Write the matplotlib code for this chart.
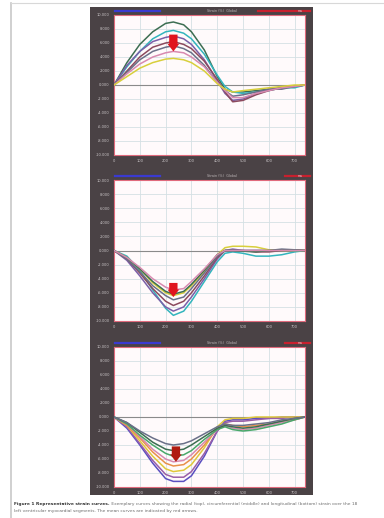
import matplotlib
matplotlib.use("Agg")
import matplotlib.pyplot as plt
from matplotlib.patches import Rectangle
from matplotlib.lines import Line2D

# sample times (x axis units, 100 ms each)
t = [0, 0.5, 1.0, 1.5, 2.0, 2.3, 2.7, 3.0, 3.5, 4.0, 4.3, 4.6, 5.0, 5.5, 6.0, 6.5, 7.0, 7.4]

# radial strain (top panel)
radial = {
    '#3d6e52': [0, 1.6, 2.9, 3.8, 4.4, 4.5, 4.3, 3.8, 2.5, 0.6, -0.3, -0.5, -0.5, -0.4, -0.3, -0.2, -0.1, 0],
    '#33b5bd': [0, 1.3, 2.4, 3.3, 3.8, 3.9, 3.7, 3.3, 2.2, 0.7, -0.1, -0.5, -0.6, -0.5, -0.4, -0.2, -0.2, 0],
    '#7b5fa8': [0, 1.4, 2.4, 3.1, 3.4, 3.5, 3.3, 2.9, 1.8, 0.3, -0.6, -1.1, -1.0, -0.6, -0.3, -0.2, -0.1, 0],
    '#8c4a5e': [0, 1.0, 2.0, 2.7, 3.0, 3.1, 2.9, 2.6, 1.7, 0.4, -0.5, -1.2, -1.1, -0.7, -0.4, -0.2, -0.1, 0],
    '#6a7088': [0, 0.9, 1.8, 2.4, 2.7, 2.8, 2.6, 2.3, 1.4, 0.2, -0.4, -0.8, -0.7, -0.5, -0.3, -0.3, -0.1, 0],
    '#d88ab0': [0, 0.8, 1.5, 2.0, 2.3, 2.4, 2.3, 2.0, 1.3, 0.2, -0.4, -0.9, -0.9, -0.6, -0.4, -0.2, -0.1, 0],
    '#d8cf3c': [0, 0.6, 1.2, 1.6, 1.85, 1.9, 1.8, 1.6, 1.0, 0.1, -0.3, -0.5, -0.4, -0.3, -0.2, -0.1, 0, 0],
}

# circumferential strain (middle panel)
circ = {
    '#33b5bd': [0, -0.4, -1.4, -2.8, -4.1, -4.6, -4.3, -3.6, -2.2, -0.8, -0.2, -0.1, -0.2, -0.4, -0.4, -0.3, -0.1, 0],
    '#7b5fa8': [0, -0.7, -1.8, -3.0, -4.0, -4.3, -4.0, -3.3, -2.0, -0.6, 0, 0.1, 0, 0, 0, 0, 0.05, 0],
    '#8c4a5e': [0, -0.6, -1.6, -2.7, -3.6, -3.9, -3.6, -3.0, -1.8, -0.5, 0, 0, 0, -0.1, -0.1, 0, 0.05, 0],
    '#d8cf3c': [0, -0.5, -1.3, -2.3, -3.0, -3.2, -3.0, -2.5, -1.5, -0.3, 0.2, 0.3, 0.3, 0.25, 0.05, 0, 0, 0],
    '#6a7088': [0, -0.6, -1.5, -2.5, -3.2, -3.5, -3.3, -2.7, -1.6, -0.4, 0, 0, 0, 0, 0, 0.1, 0.05, 0],
    '#3d6e52': [0, -0.5, -1.3, -2.2, -2.9, -3.1, -2.9, -2.4, -1.4, -0.3, 0, 0, -0.05, -0.1, 0, 0, 0, 0],
    '#d88ab0': [0, -0.5, -1.2, -2.0, -2.6, -2.8, -2.7, -2.2, -1.3, -0.3, 0, 0, 0, 0, 0, 0, 0, 0],
}

# longitudinal strain (bottom panel)
longi = {
    '#5a4fc0': [0, -0.8, -2.0, -3.3, -4.4, -4.6, -4.6, -4.2, -2.8, -1.0, -0.3, -0.2, -0.2, -0.1, -0.1, 0, 0, 0],
    '#9a5fa8': [0, -0.7, -1.9, -3.1, -4.1, -4.3, -4.3, -3.9, -2.6, -1.0, -0.4, -0.3, -0.3, -0.2, -0.1, -0.1, 0, 0],
    '#e0c83c': [0, -0.6, -1.7, -2.8, -3.7, -3.9, -3.8, -3.4, -2.2, -0.7, -0.2, -0.1, -0.1, 0, 0, 0, 0, 0],
    '#e8904a': [0, -0.6, -1.5, -2.5, -3.3, -3.5, -3.4, -3.0, -2.0, -0.8, -0.5, -0.6, -0.7, -0.6, -0.5, -0.3, -0.2, 0],
    '#d88ab0': [0, -0.5, -1.4, -2.3, -3.0, -3.2, -3.1, -2.7, -1.8, -0.9, -0.6, -0.8, -0.9, -0.8, -0.6, -0.4, -0.2, 0],
    '#4aa86a': [0, -0.5, -1.3, -2.0, -2.6, -2.8, -2.7, -2.4, -1.6, -0.9, -0.7, -0.9, -1.0, -0.9, -0.7, -0.5, -0.2, 0],
    '#3d6e52': [0, -0.4, -1.1, -1.8, -2.3, -2.4, -2.3, -2.0, -1.4, -0.8, -0.6, -0.7, -0.8, -0.7, -0.5, -0.3, -0.1, 0],
    '#6a7088': [0, -0.4, -1.0, -1.5, -1.9, -2.0, -1.9, -1.7, -1.2, -0.7, -0.5, -0.6, -0.6, -0.5, -0.4, -0.2, -0.1, 0],
}

# mean arrows (x, start, end, colour)
arrows = [(2.3, 3.6, 2.4, '#e0141e'), (2.3, -2.3, -3.3, '#e0141e'), (2.4, -2.1, -3.2, '#b01a10')]

yticks = [5, 4, 3, 2, 1, 0, -1, -2, -3, -4, -5]
xticks = [0, 1, 2, 3, 4, 5, 6, 7]

W, H = 384, 518
fig = plt.figure(figsize=(W / 100, H / 100), dpi=100)
fig.patch.set_facecolor('white')

def fx(px):
    return px / W

def fy(py):
    return 1 - py / H

# page border
fig.add_artist(Line2D([fx(11), fx(11)], [fy(3), fy(518)], color='#c8c8c8', lw=1.2))
fig.add_artist(Line2D([fx(11), fx(384)], [fy(3), fy(3)], color='#d8d8d8', lw=0.8))

# dark instrument frame
fig.add_artist(Rectangle((fx(90), fy(495)), fx(313) - fx(90), fy(7) - fy(495),
                         transform=fig.transFigure, facecolor='#4a4245', edgecolor='none', zorder=0))

panels = [(radial, 15, 155), (circ, 180, 321), (longi, 347, 487)]

for i, (data, top, bot) in enumerate(panels):
    ax = fig.add_axes([fx(114), fy(bot), fx(305) - fx(114), fy(top) - fy(bot)])
    ax.set_facecolor('#fffafb')
    ax.set_xlim(0, 7.4)
    ax.set_ylim(-5, 5)
    for v in xticks:
        ax.axvline(v, color='#d4e0e4', lw=0.6, zorder=1)
    for v in yticks:
        ax.axhline(v, color='#d4e0e4', lw=0.6, zorder=1)
    ax.axhline(0, color='#8a8a8a', lw=0.8, zorder=2)
    for c, vals in data.items():
        ax.plot(t, vals, color=c, lw=1.1, zorder=3, solid_joinstyle='round')
    xa, y0, y1, ac = arrows[i]
    ax.annotate('', xy=(xa, y1), xytext=(xa, y0),
                arrowprops=dict(arrowstyle='simple,head_width=1.4,head_length=0.9,tail_width=1.0',
                                mutation_scale=6, color=ac, lw=0, shrinkA=0, shrinkB=0), zorder=5)
    ax.set_xticks(xticks)
    ax.set_xticklabels([str(v * 100) for v in xticks])
    ax.set_yticks(yticks)
    ax.set_yticklabels(['%.3f' % (v * 2) for v in yticks])
    ax.tick_params(colors='#c9c4c6', labelsize=2.6, length=0, pad=3)
    for s in ax.spines.values():
        s.set_color('#e06a7c')
        s.set_linewidth(0.8)

    # header strip
    hy = fy(top - 4)
    fig.add_artist(Line2D([fx(115), fx(160)], [hy, hy], color='#3a3ad0', lw=1.6))
    fig.add_artist(Line2D([fx(258 if i == 0 else 285), fx(310)], [hy, hy], color='#c8202e', lw=1.6))
    fig.text(fx(222), hy, 'Strain (%)  Global', color='#bdb6b8', fontsize=2.4,
             ha='center', va='center')
    fig.text(fx(300), hy, 'ms', color='#e0d0d4', fontsize=2.4, ha='center', va='center')

# caption
cap_bold = 'Figure 1 Representative strain curves.'
cap_rest = ' Exemplary curves showing the radial (top), circumferential (middle) and longitudinal (bottom) strain over the 18'
cap_line2 = 'left ventricular myocardial segments. The mean curves are indicated by red arrows.'
tb = fig.text(fx(14), fy(504), cap_bold, fontsize=3.2, fontweight='bold', color='#333333', va='center')
fig.canvas.draw()
bb = tb.get_window_extent().transformed(fig.transFigure.inverted())
fig.text(bb.x1, fy(504), cap_rest, fontsize=3.2, color='#6e6e6e', va='center')
fig.text(fx(14), fy(511), cap_line2, fontsize=3.2, color='#6e6e6e', va='center')

fig.savefig('out.png', dpi=100)
